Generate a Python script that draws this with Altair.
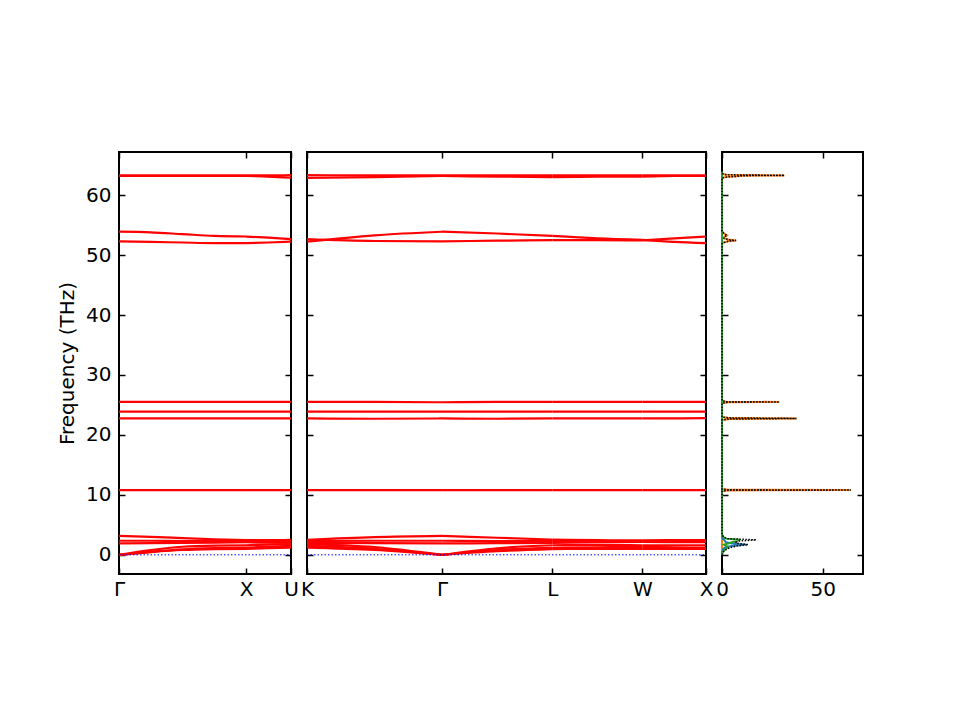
import altair as alt
import pandas as pd

FONT = "DejaVu Sans"
FS = 20
TICK = 6

# ---------------- shared frequency axis ----------------
y_domain = [-3.2, 67.2]
y_ticks = [0, 10, 20, 30, 40, 50, 60]
y_title = "Frequency (THz)"

# ---------------- left panel: Γ - X - U ----------------
left_labels = ["Γ", "X", "U"]
left_label_pos = [0.0, 1.0, 1.354]
left_k = [0.0, 0.25, 0.5, 0.75, 1.0, 1.177, 1.354]
left_segments = [(0, 4), (4, 6)]
left_bands = [
    [0.0, 0.45, 0.8, 0.95, 1.0, 1.1, 1.2],
    [0.0, 0.5, 0.9, 1.1, 1.2, 1.35, 1.5],
    [0.0, 0.8, 1.35, 1.55, 1.6, 1.7, 1.8],
    [1.9, 1.95, 2.0, 2.05, 2.1, 2.05, 2.0],
    [2.35, 2.35, 2.3, 2.3, 2.3, 2.3, 2.3],
    [3.15, 3.0, 2.8, 2.6, 2.45, 2.45, 2.5],
    [10.8, 10.8, 10.8, 10.8, 10.8, 10.8, 10.8],
    [22.75, 22.75, 22.75, 22.75, 22.75, 22.75, 22.75],
    [23.9, 23.9, 23.9, 23.9, 23.9, 23.9, 23.9],
    [25.5, 25.5, 25.5, 25.5, 25.5, 25.5, 25.5],
    [52.3, 52.2, 52.1, 52.0, 52.0, 52.1, 52.25],
    [53.9, 53.8, 53.5, 53.2, 53.1, 52.9, 52.65],
    [63.2, 63.2, 63.2, 63.2, 63.2, 63.1, 62.9],
    [63.3, 63.3, 63.3, 63.3, 63.3, 63.3, 63.35],
]

# ---------------- middle panel: K - Γ - L - W - X ----------------
mid_labels = ["K", "Γ", "L", "W", "X"]
mid_label_pos = [0.0, 1.0607, 1.9267, 2.6338, 3.1338]
mid_k = [0.0, 0.53, 1.0607, 1.494, 1.9267, 2.28, 2.6338, 2.884, 3.1338]
mid_segments = [(0, 2), (2, 4), (4, 6), (6, 8)]
mid_bands = [
    [1.2, 0.8, 0.0, 0.6, 0.95, 1.0, 1.0, 1.0, 1.0],
    [1.5, 1.0, 0.0, 0.8, 1.15, 1.25, 1.3, 1.25, 1.2],
    [1.8, 1.3, 0.0, 1.1, 1.6, 1.65, 1.6, 1.6, 1.6],
    [2.0, 1.95, 1.9, 1.95, 2.0, 2.1, 2.15, 2.1, 2.1],
    [2.3, 2.35, 2.35, 2.3, 2.3, 2.3, 2.3, 2.3, 2.3],
    [2.5, 2.95, 3.15, 2.85, 2.55, 2.45, 2.4, 2.45, 2.45],
    [10.8, 10.8, 10.8, 10.8, 10.8, 10.8, 10.8, 10.8, 10.8],
    [22.75, 22.7, 22.75, 22.7, 22.75, 22.75, 22.75, 22.75, 22.8],
    [23.9, 23.9, 23.9, 23.9, 23.9, 23.9, 23.9, 23.9, 23.9],
    [25.5, 25.5, 25.45, 25.5, 25.5, 25.5, 25.5, 25.5, 25.5],
    [52.25, 53.3, 53.9, 53.6, 53.2, 52.8, 52.55, 52.2, 52.0],
    [52.65, 52.35, 52.3, 52.4, 52.5, 52.5, 52.45, 52.8, 53.1],
    [62.9, 63.0, 63.2, 63.1, 63.0, 63.1, 63.1, 63.2, 63.2],
    [63.35, 63.3, 63.3, 63.3, 63.3, 63.3, 63.3, 63.3, 63.3],
]

# ---------------- DOS panel ----------------
dos_domain = [0, 70]
dos_ticks = [0, 50]
dos_freq = [0.0, 0.5, 1.0, 1.3, 1.5, 1.7, 1.9, 2.1, 2.3, 2.5, 2.7, 3.0, 3.4,
            10.6, 10.75, 10.8, 10.85, 11.0,
            22.5, 22.65, 22.75, 22.85, 23.0,
            25.3, 25.45, 25.5, 25.55, 25.7,
            51.9, 52.1, 52.3, 52.45, 52.6, 52.8, 53.0, 53.3, 53.6, 54.0,
            62.9, 63.05, 63.15, 63.25, 63.3, 63.4, 63.6, 64.0]
dos_orange = [0, 0, 0, 0, 0, 0, 0, 0, 0, 0, 0, 0, 0,
              0, 3, 64, 3, 0,
              0, 4, 37, 3, 0,
              0, 3, 28.5, 2, 0,
              0, 1, 3, 7, 3, 1, 1, 2.5, 1, 0,
              0, 3, 8, 10, 31, 2, 0, 0]
dos_blue = [0, 0.2, 0.6, 2, 6, 12, 5, 2, 1.5, 1, 0.4, 0.2, 0,
            0, 0, 0, 0, 0,
            0, 0, 0, 0, 0,
            0, 0, 0, 0, 0,
            0, 0, 0, 0, 0, 0, 0, 0, 0, 0,
            0, 0, 0, 0, 0, 0, 0, 0]
dos_green = [0, 0.4, 2, 3, 2, 1, 3, 5, 7, 9, 2, 0.5, 0,
             0, 0, 0, 0, 0,
             0, 0, 0, 0, 0,
             0, 0, 0, 0, 0,
             0, 0, 0, 0, 0, 0, 0, 0, 0, 0,
             0, 0, 0, 0, 0, 0, 0, 0]
dos_total = [0, 0.6, 2.6, 5, 8, 13, 8, 7, 8.5, 17, 2.4, 0.7, 0,
             0, 3, 64, 3, 0,
             0, 4, 37, 3, 0,
             0, 3, 28.5, 2, 0,
             0, 1, 3, 7, 3, 1, 1, 2.5, 1, 0,
             0, 3, 8, 10, 31, 2, 0, 0]
species_colors = {"orange": "#ff7f0e", "blue": "#1f77b4", "green": "#2ca02c"}


# ---------------- helpers ----------------
def label_expr(pos, labels):
    expr = "'" + labels[-1] + "'"
    for i in reversed(range(len(pos) - 1)):
        mid = (pos[i] + pos[i + 1]) / 2
        expr = f"datum.value < {mid} ? '{labels[i]}' : ({expr})"
    return expr


def axis_common(orient, values, labels):
    return dict(orient=orient, values=values, offset=-TICK, tickSize=TICK,
                domain=False, grid=False, labels=labels, labelFont=FONT,
                labelFontSize=FS, labelColor="black", tickColor="black",
                tickWidth=1.5, labelFlush=False, labelOverlap=False)


def y_axis(orient, labels, title=None):
    kw = axis_common(orient, y_ticks, labels)
    kw["labelPadding"] = 8
    if title:
        kw.update(title=title, titleFont=FONT, titleFontSize=FS,
                  titleFontWeight="normal", titleColor="black", titlePadding=8)
    else:
        kw["title"] = None
    return alt.Axis(**kw)


def x_axis(orient, values, labels, expr=None):
    kw = axis_common(orient, values, labels)
    kw["labelPadding"] = 5
    kw["title"] = None
    if expr:
        kw["labelExpr"] = expr
    return alt.Axis(**kw)


y_scale = alt.Scale(domain=y_domain, nice=False, zero=False)


def band_df(k, bands, segments):
    rows = []
    for b, vals in enumerate(bands):
        for s, (i0, i1) in enumerate(segments):
            for i in range(i0, i1 + 1):
                rows.append({"line": f"{b}-{s}", "k": k[i], "f": vals[i]})
    return pd.DataFrame(rows)


def band_panel(k, bands, segments, label_pos, labels, width, first):
    xs = alt.Scale(domain=[label_pos[0], label_pos[-1]], nice=False, zero=False)
    lines = alt.Chart(band_df(k, bands, segments)).mark_line(
        color="red", strokeWidth=2.2, interpolate="monotone"
    ).encode(
        x=alt.X("k:Q", scale=xs,
                axis=x_axis("bottom", label_pos, True, label_expr(label_pos, labels))),
        y=alt.Y("f:Q", scale=y_scale,
                axis=y_axis("left", first, y_title if first else None)),
        detail="line:N",
        order="k:Q",
    )
    zero_df = pd.DataFrame({"k": [label_pos[0], label_pos[-1]], "f": [0, 0]})
    zero = alt.Chart(zero_df).mark_line(
        color="blue", strokeWidth=1, strokeDash=[1.5, 2]
    ).encode(
        x=alt.X("k:Q", scale=xs, axis=x_axis("top", label_pos, False)),
        y=alt.Y("f:Q", scale=y_scale, axis=y_axis("right", False)),
    )
    return alt.layer(lines, zero).resolve_axis(x="independent", y="independent").properties(
        width=width, height=422)


left = band_panel(left_k, left_bands, left_segments, left_label_pos, left_labels, 172, True)
mid = band_panel(mid_k, mid_bands, mid_segments, mid_label_pos, mid_labels, 399, False)

# DOS
dos_rows = []
for name, vals in [("orange", dos_orange), ("blue", dos_blue), ("green", dos_green)]:
    for fr, v in zip(dos_freq, vals):
        dos_rows.append({"species": name, "freq": fr, "dos": v})
dos_df = pd.DataFrame(dos_rows)
tot_df = pd.DataFrame({"freq": dos_freq, "dos": dos_total})

dos_xs = alt.Scale(domain=dos_domain, nice=False, zero=False)
partials = alt.Chart(dos_df).mark_line(strokeWidth=2).encode(
    x=alt.X("dos:Q", scale=dos_xs, axis=x_axis("bottom", dos_ticks, True)),
    y=alt.Y("freq:Q", scale=y_scale, axis=y_axis("left", False)),
    color=alt.Color("species:N",
                    scale=alt.Scale(domain=list(species_colors.keys()),
                                    range=list(species_colors.values())),
                    legend=None),
    detail="species:N",
    order="freq:Q",
)
total = alt.Chart(tot_df).mark_line(color="black", strokeWidth=1.5, strokeDash=[1.5, 1.5]).encode(
    x=alt.X("dos:Q", scale=dos_xs, axis=x_axis("top", dos_ticks, False)),
    y=alt.Y("freq:Q", scale=y_scale, axis=y_axis("right", False)),
    order="freq:Q",
)
dos = alt.layer(partials, total).resolve_axis(x="independent", y="independent").properties(
    width=141, height=422)

chart = alt.hconcat(left, mid, dos, spacing=16, bounds="flush").properties(
    padding={"left": 48, "top": 142, "right": 10, "bottom": 10},
    background="white",
).configure_view(stroke="black", strokeWidth=2)

chart.save("out.html", embed_options={"renderer": "svg", "actions": False})
